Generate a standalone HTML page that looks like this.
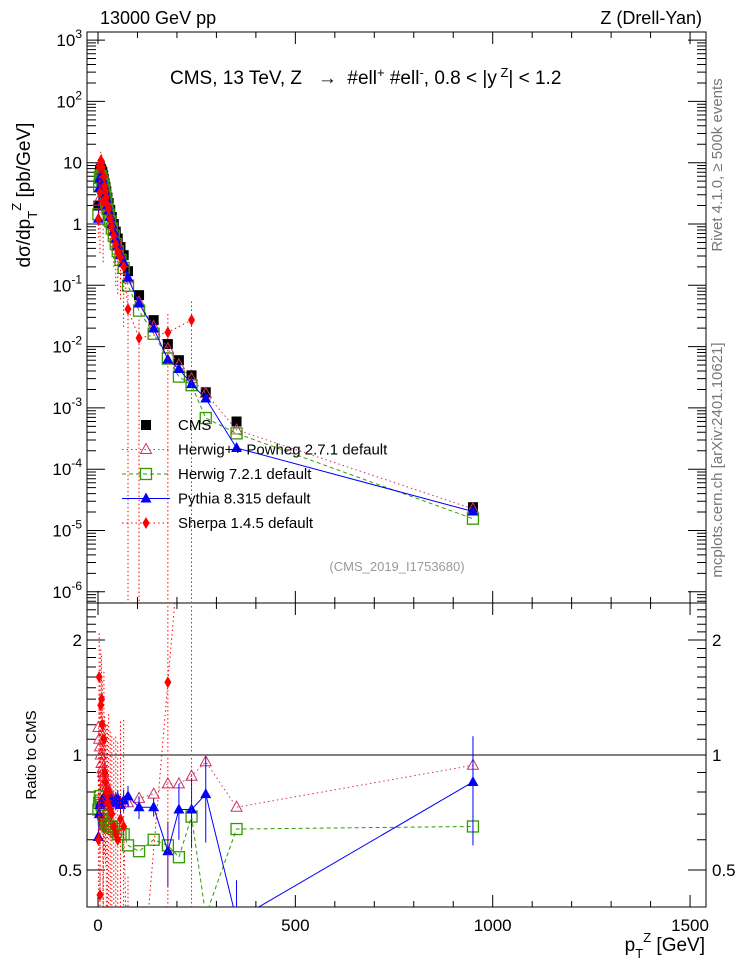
<!DOCTYPE html>
<html><head><meta charset="utf-8">
<style>
html,body{margin:0;background:#fff;width:746px;height:972px;overflow:hidden;}
svg{display:block;font-family:"Liberation Sans",Arial,sans-serif;}
</style></head>
<body>
<svg id="chart" width="746" height="972" viewBox="0 0 746 972" xmlns="http://www.w3.org/2000/svg">
<defs>
<clipPath id="clipTop"><rect x="87" y="32" width="619" height="571"/></clipPath>
<clipPath id="clipBot"><rect x="87" y="603" width="619" height="304"/></clipPath>
</defs>
<rect width="746" height="972" fill="#fff"/>
<text x="100" y="24" font-size="18">13000 GeV pp</text>
<text x="702" y="24" font-size="18" text-anchor="end">Z (Drell-Yan)</text>
<g id="frames"></g>
<g id="ticks" stroke="#000" stroke-width="1"></g>
<g id="labels" font-size="17"></g>
<text x="170" y="84" font-size="19" xml:space="preserve">CMS, 13 TeV, Z   →  #ell<tspan dy="-7" font-size="13">+</tspan><tspan dy="7"> #ell</tspan><tspan dy="-7" font-size="13">-</tspan><tspan dy="7">, 0.8 &lt; |y</tspan><tspan dy="-7" font-size="13"> Z</tspan><tspan dy="7">| &lt; 1.2</tspan></text>
<text x="397" y="571" font-size="13" fill="#999" text-anchor="middle">(CMS_2019_I1753680)</text>
<text transform="translate(30,195) rotate(-90)" font-size="19" text-anchor="middle">dσ/dp<tspan dy="7" font-size="13">T</tspan><tspan dy="-16" font-size="13">Z</tspan><tspan dy="9"> [pb/GeV]</tspan></text>
<text transform="translate(36,755) rotate(-90)" font-size="15" text-anchor="middle">Ratio to CMS</text>
<text x="705" y="951" font-size="19" text-anchor="end">p<tspan dy="7" font-size="13">T</tspan><tspan dy="-16" font-size="13">Z</tspan><tspan dy="9"> [GeV]</tspan></text>
<text transform="translate(722,165) rotate(-90)" font-size="15" fill="#777" text-anchor="middle">Rivet 4.1.0, ≥ 500k events</text>
<text transform="translate(722,460) rotate(-90)" font-size="15" fill="#777" text-anchor="middle">mcplots.cern.ch [arXiv:2401.10621]</text>
<g id="top" clip-path="url(#clipTop)"></g>
<g id="bot" clip-path="url(#clipBot)"></g>
<g id="legend" font-size="15"></g>
</svg>
<script>
const pt = [1,3,5,7,9,11,13,15,17,19,21,24,27,31,35,40,45,50,57,65,76,104,141,177,205,237,273,351,950];
const cms = [2.0,5.5,7.5,8,7.5,7,6.2,5.4,4.6,4.0,3.4,2.7,2.2,1.7,1.3,1.0,0.75,0.58,0.42,0.31,0.17,0.069,0.027,0.011,0.006,0.0034,0.0018,0.0006,2.4e-5];
const rHpp = [1.18,1.1,1.05,1.0,0.95,0.92,0.9,0.88,0.85,0.84,0.82,0.8,0.8,0.78,0.78,0.76,0.76,0.75,0.75,0.75,0.75,0.77,0.79,0.84,0.84,0.88,0.96,0.73,0.94];
const rH7 = [0.72,0.75,0.78,0.76,0.74,0.72,0.7,0.68,0.67,0.66,0.66,0.65,0.65,0.65,0.65,0.64,0.63,0.62,0.62,0.62,0.58,0.56,0.6,0.58,0.54,0.69,0.38,0.64,0.65];
const rPy = [0.61,0.7,0.74,0.75,0.76,0.76,0.76,0.77,0.77,0.76,0.76,0.75,0.76,0.77,0.76,0.75,0.76,0.77,0.74,0.76,0.78,0.73,0.73,0.56,0.72,0.72,0.79,0.37,0.85];
const rSh = [0.6,1.6,0.43,1.35,1.4,1.2,0.37,1.1,0.9,0.85,0.8,0.75,0.8,0.72,0.7,0.65,0.62,0.6,0.68,0.65,0.24,0.2,null,1.55,null,8,null,null,null];
const errPy = [0.02,0.02,0.02,0.02,0.02,0.02,0.02,0.02,0.02,0.02,0.02,0.03,0.03,0.03,0.03,0.03,0.04,0.04,0.04,0.05,0.05,0.05,0.04,0.11,0.12,0.15,0.2,0.1,0.27];
const errSh = [0.5,0.3,0.9,0.4,0.3,0.3,0.9,0.5,0.4,0.4,0.5,0.6,0.6,0.6,0.6,0.7,0.8,0.8,0.8,0.9,1.0,1.0,null,1.0,null,1.0,null,null,null];
const xTicks = [0,500,1000,1500];
const yTopTicks = [3,2,1,0,-1,-2,-3,-4,-5,-6];
const ratioTicks = [0.5,1,2];

const X0=87,X1=706,YT0=32,YT1=603,YB1=907;
const xs = v => 98 + v*0.3947;
const yT = v => 224 - Math.log10(v)*61.3;
const yR = v => 755 - Math.log10(v)*382;
const clampY = y => Math.max(0, Math.min(960, y));
const NS='http://www.w3.org/2000/svg';
function mk(tag, parent, attrs){const e=document.createElementNS(NS,tag);for(const k in attrs)e.setAttribute(k,attrs[k]);document.getElementById(parent).appendChild(e);return e;}

let f=mk('rect','frames',{x:X0,y:YT0,width:X1-X0,height:YT1-YT0,fill:'none',stroke:'#000'});


f=mk('rect','frames',{x:X0,y:YT1,width:X1-X0,height:YB1-YT1,fill:'none',stroke:'#000'});


let d='';
for(let v=0;v<=1500;v+=100){const x=xs(v);const L=(v%500===0)?12:6;
 d+=`M${x},${YT1}v${-L}M${x},${YT0}v${L}M${x},${YB1}v${-L}M${x},${YT1}v${L}`;}
for(let e=-7;e<=3;e++){for(let m=1;m<10;m++){const v=m*Math.pow(10,e);const y=yT(v);if(y<YT0||y>YT1)continue;const L=m===1?18:9;d+=`M${X0},${y}h${L}M${X1},${y}h${-L}`;}}
for(let v=0.4;v<=2.5001;v+=0.1){const y=yR(v);if(y<YT1||y>YB1)continue;const maj=Math.abs(v-0.5)<1e-6||Math.abs(v-1)<1e-6||Math.abs(v-2)<1e-6;const L=maj?18:9;d+=`M${X0},${y}h${L}M${X1},${y}h${-L}`;}
const tp=mk('path','ticks',{d:d,fill:'none'});


xTicks.forEach(v=>{const t=mk('text','labels',{x:xs(v),y:931,'text-anchor':'middle'});t.textContent=v;
 
 });
yTopTicks.forEach(e=>{const y=yT(Math.pow(10,e))+6;const t=mk('text','labels',{x:82,y:y,'text-anchor':'end'});
 t.textContent=(e===0)?'1':'10';
 if(e!==0&&e!==1){const s=document.createElementNS(NS,'tspan');s.setAttribute('dy','-8');s.setAttribute('font-size','12');s.textContent=String(e);t.appendChild(s);}
 
 });
ratioTicks.forEach(v=>{[[82,'end'],[712,'start']].forEach(([x,a])=>{const t=mk('text','labels',{x:x,y:yR(v)+6,'text-anchor':a});t.textContent=v;
 
 });});
let ul=mk('line','bot',{x1:X0,x2:X1,y1:yR(1),y2:yR(1),stroke:'#000'});



// split polyline into runs clipped to [ymin,ymax]
function clipRuns(xy,ymin,ymax){
 const runs=[];let cur=[];
 const pts=xy.filter(p=>p);
 const inside=p=>p[1]>=ymin&&p[1]<=ymax;
 const cross=(a,b)=>{const yb=(b[1]>ymax||a[1]>ymax)?ymax:ymin;const t=(yb-a[1])/(b[1]-a[1]);return [a[0]+t*(b[0]-a[0]),yb];};
 for(let i=0;i<pts.length;i++){
  const p=pts[i];
  if(i===0){if(inside(p))cur.push(p);continue;}
  const a=pts[i-1];
  const ia=inside(a),ib=inside(p);
  if(ia&&ib){cur.push(p);}
  else if(ia&&!ib){cur.push(cross(a,p));runs.push(cur);cur=[];}
  else if(!ia&&ib){cur=[cross(a,p),p];}
  else{
   // both outside: may pass through if on opposite sides
   if((a[1]<ymin&&p[1]>ymax)||(a[1]>ymax&&p[1]<ymin)){
    const t1=(ymin-a[1])/(p[1]-a[1]),t2=(ymax-a[1])/(p[1]-a[1]);
    runs.push([[a[0]+t1*(p[0]-a[0]),ymin],[a[0]+t2*(p[0]-a[0]),ymax]]);
   }
  }
 }
 if(cur.length)runs.push(cur);
 return runs.filter(r=>r.length>1);
}
function poly(g,xy,style,name,ymin,ymax){
 clipRuns(xy,ymin,ymax).forEach(run=>{
  const e=mk('polyline',g,Object.assign({points:run.map(p=>p.join(',')).join(' '),fill:'none'},style));
  
  
 });}
function marker(g,type,x,y,name){let e;
 if(type==='sqf')e=mk('rect',g,{x:x-5,y:y-5,width:10,height:10,fill:'#000'});
 else if(type==='sqo')e=mk('rect',g,{x:x-5.5,y:y-5.5,width:11,height:11,fill:'none',stroke:'#339900','stroke-width':1.3});
 else if(type==='tri')e=mk('path',g,{d:`M${x},${y-6}L${x+5.5},${y+4}L${x-5.5},${y+4}Z`,fill:'#0000ff'});
 else if(type==='trio')e=mk('path',g,{d:`M${x},${y-6}L${x+5.5},${y+4}L${x-5.5},${y+4}Z`,fill:'none',stroke:'#cc3366','stroke-width':1});
 else e=mk('path',g,{d:`M${x},${y-6}L${x+3.5},${y}L${x},${y+6}L${x-3.5},${y}Z`,fill:'#ff0000'});
 
 }
function errbar(g,x,y1,y2,color,dash,name){const e=mk('line',g,{x1:x,x2:x,y1:clampY(y1),y2:clampY(y2),stroke:color,'stroke-dasharray':dash||''});
 
 }

const series=[
 {r:rHpp,type:'trio',color:'#cc3366',dash:'1.5,3',name:'herwigpp'},
 {r:rH7,type:'sqo',color:'#339900',dash:'4,3',name:'herwig7'},
 {r:rPy,type:'tri',color:'#0000ff',dash:'',name:'pythia'},
 {r:rSh,type:'dia',color:'#ff0000',dash:'1.5,3',name:'sherpa'}];

pt.forEach((p,i)=>marker('top','sqf',xs(p),yT(cms[i]),'cms-point'));
series.forEach(s=>{
 const xy=pt.map((p,i)=>s.r[i]==null?null:[xs(p),yT(cms[i]*s.r[i])]);
 poly('top',xy,{stroke:s.color,'stroke-dasharray':s.dash,'stroke-width':1},s.name+'-line',YT0-2,YT1+2);
 if(s.name==='sherpa'){pt.forEach((p,i)=>{if(s.r[i]==null)return;const v=cms[i]*s.r[i];const e=errSh[i];
   const lo=v*(1-e);errbar('top',xs(p),yT(v*(1+e)),lo>0?Math.min(yT(lo),YT1+5):YT1+5,s.color,'1.5,2.5','sherpa-error-bar');});}
 pt.forEach((p,i)=>{if(s.r[i]==null)return;const y=yT(cms[i]*s.r[i]);if(y<YT0-8||y>YT1+8)return;marker('top',s.type,xs(p),y,s.name+'-point');});
});
series.forEach(s=>{
 const xy=pt.map((p,i)=>s.r[i]==null?null:[xs(p),yR(s.r[i])]);
 poly('bot',xy,{stroke:s.color,'stroke-dasharray':s.dash,'stroke-width':1},s.name+'-ratio-line',YT1-2,YB1+2);
 pt.forEach((p,i)=>{if(s.r[i]==null)return;
  const y=yR(s.r[i]);
  if(s.name==='pythia'){const e=errPy[i];errbar('bot',xs(p),Math.max(yR(s.r[i]+e),YT1-5),Math.min(yR(Math.max(s.r[i]-e,0.01)),YB1+5),s.color,'','pythia-ratio-error');}
  if(s.name==='sherpa'){const e=errSh[i]*s.r[i];errbar('bot',xs(p),Math.max(yR(s.r[i]+e),YT1-5),Math.min(yR(Math.max(s.r[i]-e,0.01)),YB1+5),s.color,'1.5,2.5','sherpa-ratio-error');}
  if(y<YT1-8||y>YB1+8)return;
  marker('bot',s.type,xs(p),y,s.name+'-ratio-point');});
});

const legNames=['CMS','Herwig++ Powheg 2.7.1 default','Herwig 7.2.1 default','Pythia 8.315 default','Sherpa 1.4.5 default'];
const legTypes=['sqf','trio','sqo','tri','dia'];
const legColors=['#000','#cc3366','#339900','#0000ff','#ff0000'];
const legDash=['','1.5,3','4,3','','1.5,3'];
legNames.forEach((n,i)=>{const y=425+i*24.5;
 if(i>0){const l=mk('line','legend',{x1:122,x2:170,y1:y,y2:y,stroke:legColors[i],'stroke-dasharray':legDash[i]});
  
  }
 marker('legend',legTypes[i],146,y,'legend-marker');
 const t=mk('text','legend',{x:178,y:y+5});t.textContent=n;
 
 });
</script>
</body></html>
